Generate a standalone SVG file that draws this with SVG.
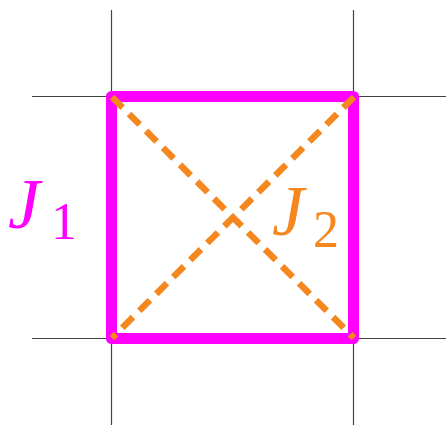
<svg xmlns="http://www.w3.org/2000/svg" width="446" height="425" viewBox="0 0 446 425">
<style>
.grid{stroke:#444;stroke-width:1.2;fill:none}
.sq{stroke:#FF00FF;stroke-width:11;fill:none;stroke-linejoin:round}
.diag{stroke:#F5871F;stroke-width:6.5;stroke-dasharray:15 9;fill:none}
</style>
<rect width="446" height="425" fill="#fff"/>
<g id="grid">
<line class="grid" x1="111.5" y1="10" x2="111.5" y2="425"/>
<line class="grid" x1="353.5" y1="10" x2="353.5" y2="425"/>
<line class="grid" x1="32" y1="96.5" x2="446" y2="96.5"/>
<line class="grid" x1="32" y1="338.5" x2="446" y2="338.5"/>
</g>
<g id="J1">
<rect class="sq" x="111.5" y="96.5" width="242" height="242"/>
<text x="8" y="228" font-family="Liberation Serif, serif" font-style="italic" font-size="72" fill="#FF00FF">J</text>
<text x="51" y="239" font-family="Liberation Serif, serif" font-size="52" fill="#FF00FF">1</text>
</g>
<g id="J2">
<line class="diag" x1="112" y1="97" x2="354" y2="338"/>
<line class="diag" x1="354" y1="97" x2="112" y2="338"/>
<text x="272" y="235" font-family="Liberation Serif, serif" font-style="italic" font-size="72" fill="#F5871F">J</text>
<text x="313" y="247" font-family="Liberation Serif, serif" font-size="52" fill="#F5871F">2</text>
</g>
</svg>
